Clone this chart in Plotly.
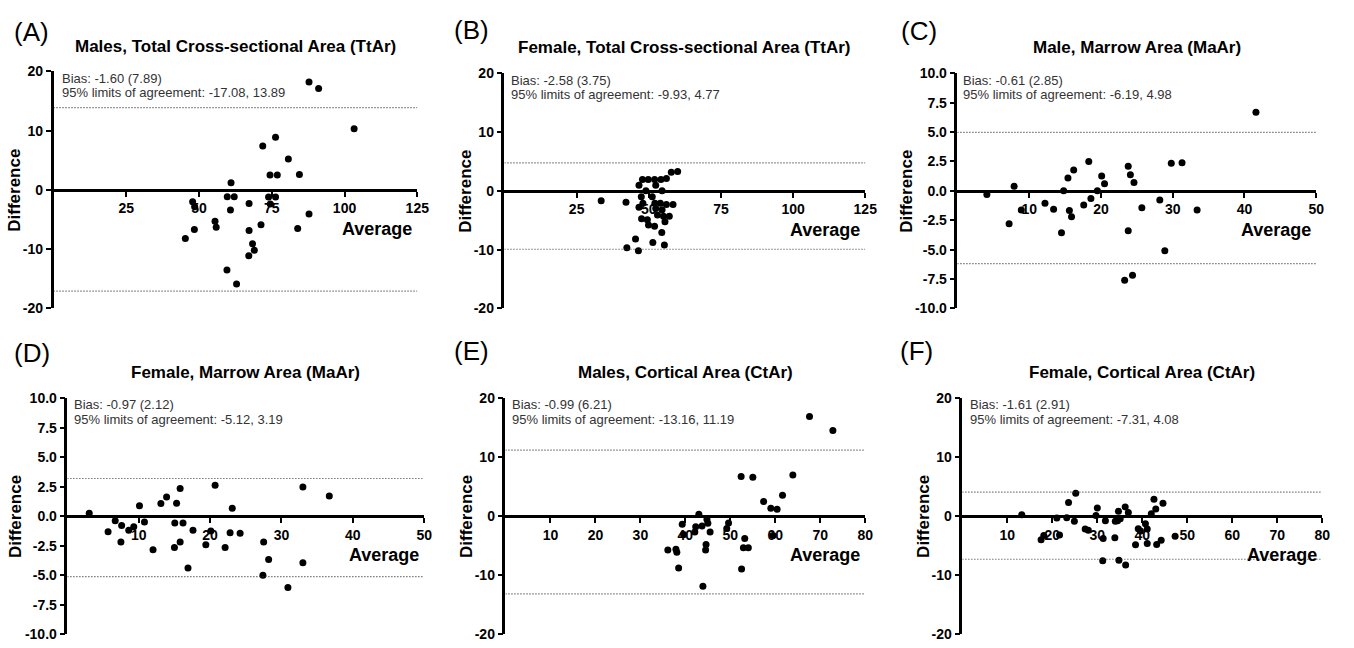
import plotly.graph_objects as go

W, H = 1354, 648

# ---------------- data ----------------
a_avg = [87.8, 91.1, 103.3, 76.3, 71.9, 80.7, 74.4, 76.9, 84.5, 61.0, 59.7, 62.1, 73.9, 76.3,
         47.8, 48.5, 67.2, 74.5, 60.8, 55.5, 55.9, 48.4, 45.3, 67.2, 71.3, 83.9, 87.8, 68.4,
         69.0, 67.1, 59.6, 62.9]
a_diff = [18.2, 17.1, 10.3, 8.9, 7.4, 5.2, 2.5, 2.5, 2.6, 1.2, -1.15, -1.15, -1.2, -1.2,
          -2.0, -2.85, -2.3, -2.4, -3.4, -5.3, -6.3, -6.7, -8.2, -6.85, -5.9, -6.5, -4.05, -9.1,
          -10.2, -11.1, -13.5, -15.9]

b_avg = [33.5, 42.1, 42.4, 46.4, 45.4, 46.6, 47.8, 49.8, 52.0, 54.2, 56.1, 57.8, 60.0, 52.4,
         49.0, 54.6, 47.4, 51.2, 47.96, 46.6, 52.1, 54.0, 56.1, 58.4, 52.4, 54.6, 53.0, 55.1,
         57.1, 47.5, 49.5, 55.6, 49.9, 52.0, 54.5, 51.4, 55.4]
b_diff = [-1.66, -1.93, -9.7, -10.2, -8.2, 0.94, 1.93, 1.93, 1.93, 1.93, 2.1, 3.15, 3.3, 0.94,
          0.0, 0.0, -1.0, -1.0, -2.1, -2.8, -2.1, -2.1, -2.3, -2.3, -3.0, -3.2, -4.1, -4.3,
          -4.3, -4.75, -4.9, -5.25, -5.8, -6.0, -7.1, -8.8, -9.2]

c_avg = [41.6, 29.8, 31.3, 18.3, 23.8, 16.2, 24.1, 15.4, 20.1, 20.5, 24.6, 7.9, 4.1, 14.8,
         19.5, 18.6, 28.2, 12.2, 17.6, 8.9, 13.4, 15.6, 25.7, 33.4, 15.9, 7.2, 14.5, 23.8,
         28.9, 23.3, 24.4]
c_diff = [6.7, 2.35, 2.4, 2.5, 2.1, 1.77, 1.38, 1.1, 1.27, 0.6, 0.72, 0.39, -0.3, 0.0,
          0.0, -0.64, -0.77, -1.05, -1.2, -1.63, -1.57, -1.66, -1.44, -1.63, -2.2, -2.8, -3.56, -3.4,
          -5.1, -7.6, -7.18]

d_avg = [3.06, 5.7, 6.7, 7.6, 7.5, 8.6, 9.3, 10.1, 10.8, 12.0, 13.1, 13.9, 15.3, 15.8,
         15.05, 16.2, 15.0, 15.8, 16.9, 17.6, 19.4, 20.1, 20.7, 22.1, 22.8, 23.1, 24.2, 27.5,
         27.4, 28.2, 30.9, 33.0, 33.0, 36.7]
d_diff = [0.25, -1.33, -0.39, -0.8, -2.2, -1.19, -0.91, 0.88, -0.5, -2.85, 1.08, 1.63, 1.1, 2.35,
          -0.58, -0.58, -2.65, -2.2, -4.4, -1.19, -2.43, -1.27, 2.62, -2.65, -1.41, 0.66, -1.44, -2.2,
          -5.0, -3.67, -6.05, 2.46, -3.95, 1.71]

e_avg = [67.6, 72.8, 63.9, 52.4, 55.0, 61.6, 57.4, 59.0, 60.4, 43.0, 44.8, 45.0, 49.6, 49.2,
         43.7, 45.5, 42.3, 42.1, 39.3, 39.6, 59.5, 53.2, 52.9, 54.0, 44.6, 44.5, 36.1, 37.9,
         38.1, 38.5, 52.5, 43.9]
e_diff = [16.9, 14.5, 6.96, 6.7, 6.57, 3.54, 2.49, 1.33, 1.16, 0.33, -0.55, -1.2, -1.16, -2.1,
          -1.66, -2.7, -1.82, -2.7, -1.38, -3.1, -3.3, -3.8, -5.36, -5.36, -4.8, -5.75, -5.75, -5.6,
          -6.1, -8.8, -8.95, -11.9]

f_avg = [13.2, 17.5, 18.1, 21.0, 21.6, 23.2, 23.6, 24.9, 25.2, 27.3, 28.0, 30.0, 29.7, 31.3,
         31.8, 31.2, 33.9, 34.0, 34.5, 34.7, 35.1, 34.8, 36.2, 36.9, 36.3, 38.5, 39.1, 39.6,
         40.7, 41.1, 41.1, 42.0, 42.6, 43.0, 43.2, 44.2, 44.6, 47.3]
f_diff = [0.22, -4.0, -3.3, -0.33, -3.2, -0.28, 2.3, -0.88, 3.87, -2.2, -2.4, 1.38, 0.11, -3.8,
          -0.77, -7.57, -3.65, -0.88, -0.77, 0.83, -0.44, -7.46, 1.55, 0.61, -8.3, -4.86, -2.15, -2.54,
          -1.27, -2.2, -4.64, 0.39, 2.87, 1.22, -4.8, -4.1, 2.2, -3.43]

letters = ["(A)", "(B)", "(C)", "(D)", "(E)", "(F)"]
titles = ["Males, Total Cross-sectional Area (TtAr)",
          "Female, Total Cross-sectional Area (TtAr)",
          "Male, Marrow Area (MaAr)",
          "Female, Marrow Area (MaAr)",
          "Males, Cortical Area (CtAr)",
          "Female, Cortical Area (CtAr)"]
bias_text = ["Bias: -1.60 (7.89)", "Bias: -2.58 (3.75)", "Bias: -0.61 (2.85)",
             "Bias: -0.97 (2.12)", "Bias: -0.99 (6.21)", "Bias: -1.61 (2.91)"]
loa_text = ["95% limits of agreement: -17.08, 13.89", "95% limits of agreement: -9.93, 4.77",
            "95% limits of agreement: -6.19, 4.98", "95% limits of agreement: -5.12, 3.19",
            "95% limits of agreement: -13.16, 11.19", "95% limits of agreement: -7.31, 4.08"]
loa_low = [-17.08, -9.93, -6.19, -5.12, -13.16, -7.31]
loa_high = [13.89, 4.77, 4.98, 3.19, 11.19, 4.08]
x_max = [125, 125, 50, 50, 80, 80]
y_max = [20, 20, 10, 10, 20, 20]

xticks_125 = [25, 50, 75, 100, 125]
xticks_50 = [10, 20, 30, 40, 50]
xticks_80 = [10, 20, 30, 40, 50, 60, 70, 80]
yticks_20 = [-20, -10, 0, 10, 20]
ytext_20 = ["-20", "-10", "0", "10", "20"]
yticks_10 = [-10, -7.5, -5, -2.5, 0, 2.5, 5, 7.5, 10]
ytext_10 = ["-10.0", "-7.5", "-5.0", "-2.5", "0.0", "2.5", "5.0", "7.5", "10.0"]

avgs = [a_avg, b_avg, c_avg, d_avg, e_avg, f_avg]
diffs = [a_diff, b_diff, c_diff, d_diff, e_diff, f_diff]
xticks = [xticks_125, xticks_125, xticks_50, xticks_50, xticks_80, xticks_80]
yticks = [yticks_20, yticks_20, yticks_10, yticks_10, yticks_20, yticks_20]
ytexts = [ytext_20, ytext_20, ytext_10, ytext_10, ytext_20, ytext_20]

# ---------------- layout (pixels) ----------------
boxes = [(54, 421, 65, 308), (509, 873, 67, 308), (966, 1328, 67, 308),
         (68, 428, 400, 642), (510, 873, 400, 642), (971, 1334, 400, 642)]
letter_pos = [(12, 25), (456, 23), (907, 24), (12, 354), (456, 352), (906, 352)]
ytitle_x = [15, 470, 915, 15, 470, 931]
text_dx = [7, 5, 4, 5, 5, 6]

FONT = "Liberation Sans, Arial, sans-serif"


def px(p):
    return p / W


def py(p):
    return 1 - p / H


fig = go.Figure()
annotations = []
shapes = []

for i in range(6):
    n = "" if i == 0 else str(i + 1)
    xa, ya = "x" + n, "y" + n
    x0, x1, y0, y1 = boxes[i]
    fig.add_trace(go.Scatter(
        x=avgs[i], y=diffs[i], mode="markers", xaxis=xa, yaxis=ya,
        marker=dict(color="black", size=7), showlegend=False, hoverinfo="x+y"))

    ycenter = (y0 + y1) / 2
    fig.layout["xaxis" + n] = dict(
        domain=[px(x0), px(x1)], range=[0, x_max[i]], anchor="free", position=py(ycenter),
        showline=True, linecolor="black", linewidth=2.5, ticks="outside", ticklen=5,
        tickwidth=2, tickcolor="black", tickvals=xticks[i], showgrid=False, zeroline=False,
        tickfont=dict(family=FONT, size=14, color="black", weight="bold"))
    fig.layout["yaxis" + n] = dict(
        domain=[py(y1), py(y0)], range=[-y_max[i], y_max[i]], anchor=xa,
        showline=True, linecolor="black", linewidth=2.5, ticks="outside", ticklen=5,
        tickwidth=2, tickcolor="black", tickvals=yticks[i], ticktext=ytexts[i],
        showgrid=False, zeroline=False,
        tickfont=dict(family=FONT, size=14, color="black", weight="bold"))

    for v in (loa_low[i], loa_high[i]):
        shapes.append(dict(type="line", xref=xa, yref=ya, x0=0, x1=x_max[i], y0=v, y1=v,
                           line=dict(color="#333", width=1.2, dash="1px,2px")))

    # panel letter
    lx, ly = letter_pos[i]
    annotations.append(dict(xref="paper", yref="paper", x=px(lx), y=py(ly), text=letters[i],
                            showarrow=False, xanchor="left", yanchor="middle",
                            font=dict(family=FONT, size=26, color="black")))
    # title
    annotations.append(dict(xref="paper", yref="paper", x=px((x0 + x1) / 2), y=py(y0 - 26),
                            text="<b>" + titles[i] + "</b>", showarrow=False,
                            xanchor="center", yanchor="middle",
                            font=dict(family=FONT, size=17, color="black")))
    # y title
    annotations.append(dict(xref="paper", yref="paper", x=px(ytitle_x[i]), y=py(ycenter),
                            text="<b>Difference</b>", showarrow=False, textangle=-90,
                            xanchor="center", yanchor="middle",
                            font=dict(family=FONT, size=17, color="black")))
    # x title
    annotations.append(dict(xref="paper", yref="paper", x=px(x1 - 3), y=py(ycenter + 40),
                            text="<b>Average</b>", showarrow=False,
                            xanchor="right", yanchor="middle",
                            font=dict(family=FONT, size=18, color="black")))
    # bias text
    annotations.append(dict(xref="paper", yref="paper", x=px(x0 + text_dx[i]), y=py(y0 + 7),
                            text=bias_text[i], showarrow=False, xanchor="left", yanchor="middle",
                            font=dict(family=FONT, size=13, color="#333")))
    annotations.append(dict(xref="paper", yref="paper", x=px(x0 + text_dx[i]), y=py(y0 + 22),
                            text=loa_text[i], showarrow=False, xanchor="left", yanchor="middle",
                            font=dict(family=FONT, size=13, color="#333")))

fig.update_layout(width=W, height=H, margin=dict(l=0, r=0, t=0, b=0),
                  paper_bgcolor="white", plot_bgcolor="white",
                  annotations=annotations, shapes=shapes, showlegend=False)

fig.write_html("out.html")
